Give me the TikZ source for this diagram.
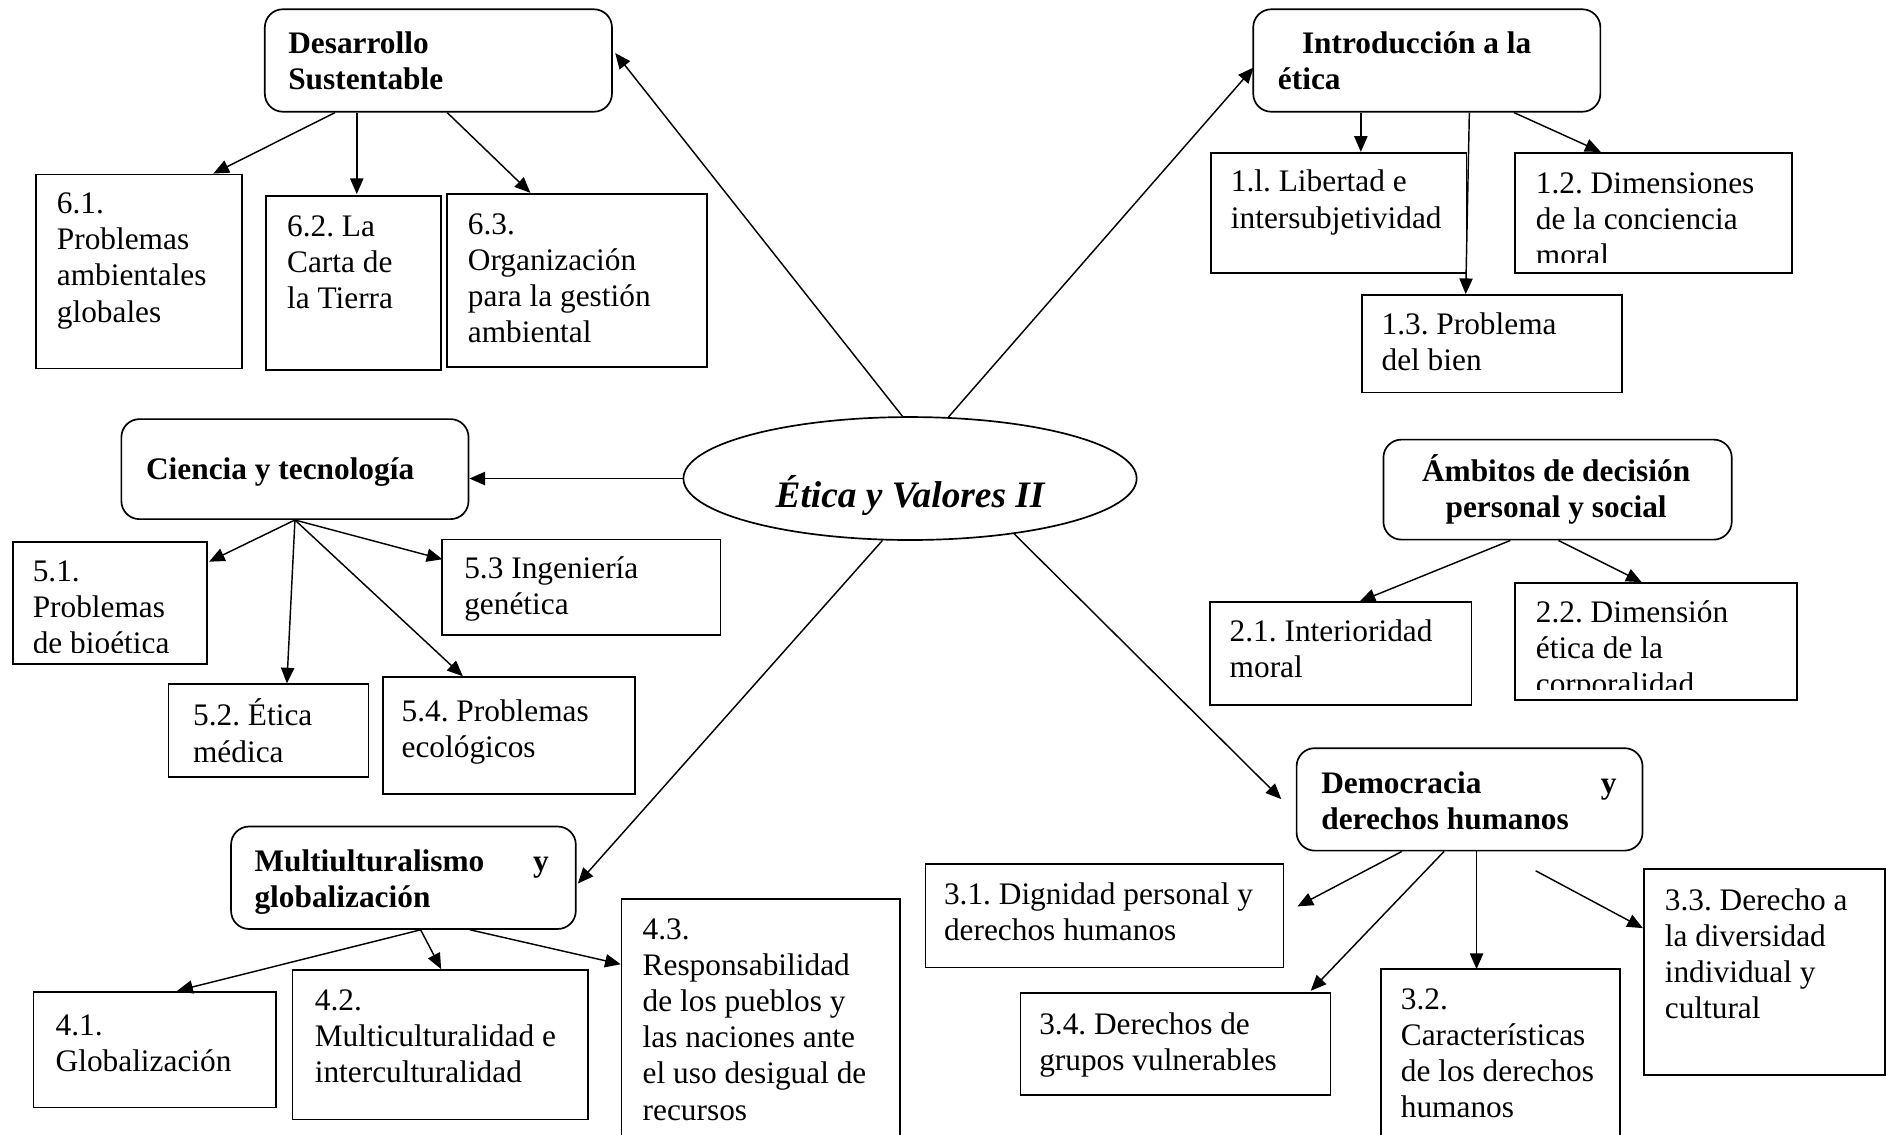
\documentclass[tikz,border=0pt]{standalone}
\usepackage{fontspec}
\setmainfont{Liberation Serif}
\usetikzlibrary{arrows.meta,calc,shapes.geometric}
\newcommand\fs{\rule{0pt}{24pt}}
\newcommand\mybox[6][box]{\node[#1,minimum width={#5-#3},minimum height={#6-#4}] (#2) at (#3,#4) {};}
\frenchspacing
\begin{document}
\frenchspacing
\begin{tikzpicture}[x=1pt,y=-1pt,
 box/.style={draw,line width=1.4pt,anchor=north west,inner sep=0pt},
 topic/.style={box,rounded corners=15pt},
 txt/.style={anchor=north west,inner sep=0pt,align=left,font=\fontsize{26}{30}\selectfont\frenchspacing},
 btxt/.style={txt,font=\fontsize{26}{30}\selectfont\bfseries\frenchspacing},
 conn/.style={line width=1.2pt,-{Triangle[length=13pt,width=11pt]}}]
\useasboundingbox (0,0) rectangle (1568,941);

% centre
\node[draw,ellipse,line width=1.4pt,minimum width=376,minimum height=102,inner sep=0pt] (c) at (755,397) {};
\node[anchor=base,inner sep=0pt,font=\fontsize{31}{36}\selectfont\bfseries\itshape] (ct) at (755,421) {Ética y Valores II};

% Desarrollo sustentable
\mybox[topic]{ds}{219}{7}{507}{92}
\node[btxt] (tds) at (239,20) {\fs Desarrollo\\Sustentable};
\mybox{b61}{29}{144}{200}{305}
\node[txt] (t61) at (47,153) {\fs 6.1.\\Problemas\\ambientales\\globales};
\mybox{b62}{220}{162}{365}{306}
\node[txt] (t62) at (238,172) {\fs 6.2. La\\Carta de\\la Tierra};
\mybox{b63}{370}{160}{586}{304}
\node[txt] (t63) at (388,170) {\fs 6.3.\\Organización\\para la gestión\\ambiental};

% Introduccion
\mybox[topic]{in}{1039}{7}{1327}{92}
\node[btxt] (tin) at (1060,20) {\fs\hspace*{20pt}Introducción a la\\ética};
\mybox{b11}{1004}{126}{1216}{226}
\node[txt] (t11) at (1021,135) {\fs 1.l. Libertad e\\intersubjetividad};
\mybox{b12}{1256}{126}{1486}{226}
\begin{scope}
\clip (b12.north west) rectangle ($(b12.south east)+(0,-10)$);
\node[txt] (t12) at (1274,136) {\fs 1.2. Dimensiones\\de la conciencia\\moral};
\end{scope}
\mybox{b13}{1129}{244}{1345}{325}
\node[txt] (t13) at (1146,253) {\fs 1.3. Problema\\del bien};

% Ciencia
\mybox[topic]{ci}{100}{347}{388}{430}
\node[btxt] (tci) at (121,374) {\fs Ciencia y tecnología};
\mybox{b51}{10}{449}{171}{550}
\begin{scope}
\clip (b51.north west) rectangle ($(b51.south east)+(0,-10)$);
\node[txt] (t51) at (27,458) {\fs 5.1.\\Problemas\\de bioética};
\end{scope}
\mybox{b53}{366}{447}{597}{526}
\node[txt] (t53) at (385,456) {\fs 5.3 Ingeniería\\genética};
\mybox{b52}{139}{567}{305}{644}
\node[txt] (t52) at (160,578) {\fs 5.2. Ética\\médica};
\mybox{b54}{317}{561}{526}{658}
\node[txt] (t54) at (333,574) {\fs 5.4. Problemas\\ecológicos};

% Ambitos
\mybox[topic]{am}{1147}{364}{1436}{447}
\node[btxt,anchor=north,align=center] (tam) at (1291,375) {\fs Ámbitos de decisión\\personal y social};
\mybox{b21}{1003}{499}{1220}{584}
\node[txt] (t21) at (1020,508) {\fs 2.1. Interioridad\\moral};
\mybox{b22}{1256}{483}{1490}{580}
\begin{scope}
\clip (b22.north west) rectangle ($(b22.south east)+(0,-9)$);
\node[txt] (t22) at (1274,492) {\fs 2.2. Dimensión\\ética de la\\corporalidad};
\end{scope}

% Democracia
\mybox[topic]{de}{1075}{620}{1362}{705}
\node[btxt] (tde) at (1096,634) {\fs\makebox[245pt][l]{Democracia\hfill y}\\derechos humanos};
\mybox{b31}{767}{716}{1064}{802}
\node[txt] (t31) at (783,726) {\fs 3.1. Dignidad personal y\\derechos humanos};
\mybox{b34}{846}{823}{1103}{908}
\node[txt] (t34) at (862,834) {\fs 3.4. Derechos de\\grupos vulnerables};
\mybox{b32}{1145}{803}{1343}{960}
\node[txt] (t32) at (1162,813) {\fs 3.2.\\Características\\de los derechos\\humanos};
\mybox{b33}{1363}{720}{1563}{891}
\node[txt] (t33) at (1381,731) {\fs 3.3. Derecho a\\la diversidad\\individual y\\cultural};

% Multiculturalismo
\mybox[topic]{mu}{191}{685}{477}{770}
\node[btxt] (tmu) at (211,699) {\fs\makebox[244pt][l]{Multiulturalismo\hfill y}\\globalización};
\mybox{b41}{27}{822}{228}{918}
\node[txt] (t41) at (46,835) {\fs 4.1.\\Globalización};
\mybox{b42}{242}{804}{487}{928}
\node[txt] (t42) at (261,814) {\fs 4.2.\\Multiculturalidad e\\interculturalidad};
\mybox{b43}{515}{745}{746}{960}
\node[txt] (t43) at (533,755) {\fs 4.3.\\Responsabilidad\\de los pueblos y\\las naciones ante\\el uso desigual de\\recursos};

% connectors from centre
\draw[conn] (c.97) -- ($(ds.north east)+(2,37)$);
\draw[conn] (c.58) -- ($(in.north west)+(1,49)$);
\draw[conn] (c.west) -- (c.west -| ci.east);
\draw[conn] (c.246) -- ($(mu.north east)+(1,48)$);
\draw[conn] (c.-28) -- ($(de.north west)+(-12,43)$);

% Desarrollo children
\draw[conn] ($(ds.south west)+(59,0)$) -- ($(b61.north west)+(148,0)$);
\draw[conn] ($(ds.south west)+(77,0)$) -- ($(b62.north west)+(76,-1)$);
\draw[conn] ($(ds.south west)+(152,0)$) -- ($(b63.north west)+(70,0)$);

% Introduccion children
\draw[conn] ($(in.south west)+(90,0)$) -- ($(b11.north west)+(125,0)$);
\draw[conn] ($(in.south west)+(180,0)$) -- ($(b13.north west)+(87,0)$);
\draw[conn] ($(in.south west)+(217,0)$) -- ($(b12.north west)+(72,0)$);

% Ciencia children
\draw[conn] (ci.south) -- ($(b51.north east)+(1,17)$);
\draw[conn] (ci.south) -- ($(b52.north west)+(99,0)$);
\draw[conn] (ci.south) -- ($(b54.north west)+(67,0)$);
\draw[conn] (ci.south) -- ($(b53.north west)+(1,17)$);

% Multi children
\draw[conn] ($(mu.south west)+(158,0)$) -- ($(b41.north west)+(120,0)$);
\draw[conn] ($(mu.south west)+(158,0)$) -- ($(b42.north west)+(124,0)$);
\draw[conn] ($(mu.south west)+(199,0)$) -- ($(b43.north west)+(0,55)$);

% Ambitos children
\draw[conn] ($(am.south west)+(106,0)$) -- ($(b21.north west)+(125,0)$);
\draw[conn] ($(am.south west)+(146,0)$) -- ($(b22.north west)+(106,0)$);

% Democracia children
\draw[conn] ($(de.south west)+(88,0)$) -- ($(b31.north east)+(11,36)$);
\draw[conn] ($(de.south west)+(123,0)$) -- ($(b34.north east)+(-17,-1)$);
\draw[conn] ($(de.south west)+(150,0)$) -- ($(b32.north west)+(80,1)$);
\coordinate (d33) at ($(de.south west)+(199,16)$);
\draw[conn] (d33) -- ($(b33.north west)+(0,50)$);
\end{tikzpicture}
\end{document}
